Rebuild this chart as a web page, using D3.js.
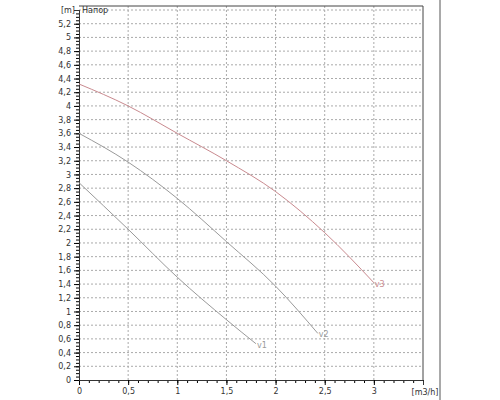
<!DOCTYPE html><html><head><meta charset="utf-8"><script src="https://cdn.jsdelivr.net/npm/d3@7"></script>
<style>body{margin:0;background:#fff}text{font-family:"DejaVu Sans",Arial,sans-serif}</style></head><body><svg id="c" width="500" height="400"></svg>
<script>
const xTicks=[0,0.5,1,1.5,2,2.5,3];
const yTicks=d3.range(0,5.3,0.2).map(v=>+v.toFixed(1));
const v1=[[0,2.88],[0.5,2.2],[1,1.5],[1.5,0.88],[1.8,0.53]];
const v2=[[0,3.6],[0.5,3.18],[1,2.65],[1.5,2.02],[2,1.37],[2.43,0.68]];
const v3=[[0,4.32],[0.5,4.0],[1,3.6],[1.5,3.2],[2,2.75],[2.5,2.15],[3,1.42]];
const series=[{n:"v1",d:v1,c:"#9a9a9a"},{n:"v2",d:v2,c:"#9a9a9a"},{n:"v3",d:v3,c:"#c98a8f"}];
const svg=d3.select("#c");
const x=d3.scaleLinear().domain([0,3.5]).range([79,423]);
const y=d3.scaleLinear().domain([0,5.4]).range([380,10]);
const g=svg.append("g");
xTicks.slice(1).forEach(t=>g.append("line").attr("x1",x(t)).attr("x2",x(t)).attr("y1",y(0)).attr("y2",6).attr("stroke","#aaa").attr("stroke-dasharray","2,2"));
yTicks.slice(1).concat([5.4]).forEach(t=>g.append("line").attr("x1",x(0)).attr("x2",x(3.5)).attr("y1",y(t)).attr("y2",y(t)).attr("stroke","#aaa").attr("stroke-dasharray","2,2"));
svg.append("path").attr("d",`M${x(0)},6H${x(3.5)}V${y(0)}`).attr("fill","none").attr("stroke","#444");
svg.append("line").attr("x1",440).attr("x2",440).attr("y1",0).attr("y2",400).attr("stroke","#555");
const xa=svg.append("g").attr("transform",`translate(0,${y(0)})`).call(d3.axisBottom(x).tickValues(d3.range(0,3.51,0.1)).tickSize(3).tickFormat(""));
svg.append("g").attr("transform",`translate(0,${y(0)})`).call(d3.axisBottom(x).tickValues(xTicks).tickSize(5).tickFormat(d=>String(d).replace(".",",")));
svg.append("g").attr("transform",`translate(${x(0)},0)`).call(d3.axisLeft(y).tickValues(d3.range(0,5.41,0.05)).tickSize(3).tickFormat(""));
svg.append("g").attr("transform",`translate(${x(0)},0)`).call(d3.axisLeft(y).tickValues(yTicks).tickSize(5).tickFormat(d=>String(d).replace(".",",")));
svg.selectAll(".tick text").attr("font-size",8).attr("fill","#333");
svg.selectAll(".domain").attr("stroke","#333");
svg.append("text").attr("x",x(0)-4).attr("y",y(5.4)+3).attr("text-anchor","end").attr("font-size",8).attr("fill","#333").text("[m]");
svg.append("text").attr("x",x(0)+3).attr("y",y(5.4)+3).attr("font-size",8).attr("fill","#333").text("Напор");
svg.append("text").attr("x",x(3.5)+2).attr("y",y(0)+15).attr("text-anchor","middle").attr("font-size",8).attr("fill","#333").text("[m3/h]");
const line=d3.line().x(d=>x(d[0])).y(d=>y(d[1])).curve(d3.curveMonotoneX);
series.forEach(s=>{svg.append("path").attr("d",line(s.d)).attr("fill","none").attr("stroke",s.c).attr("stroke-width",1);
const l=s.d[s.d.length-1];svg.append("text").attr("x",x(l[0])+1).attr("y",y(l[1])+4).attr("font-size",8).attr("fill",s.c).text(s.n);});
</script></body></html>
